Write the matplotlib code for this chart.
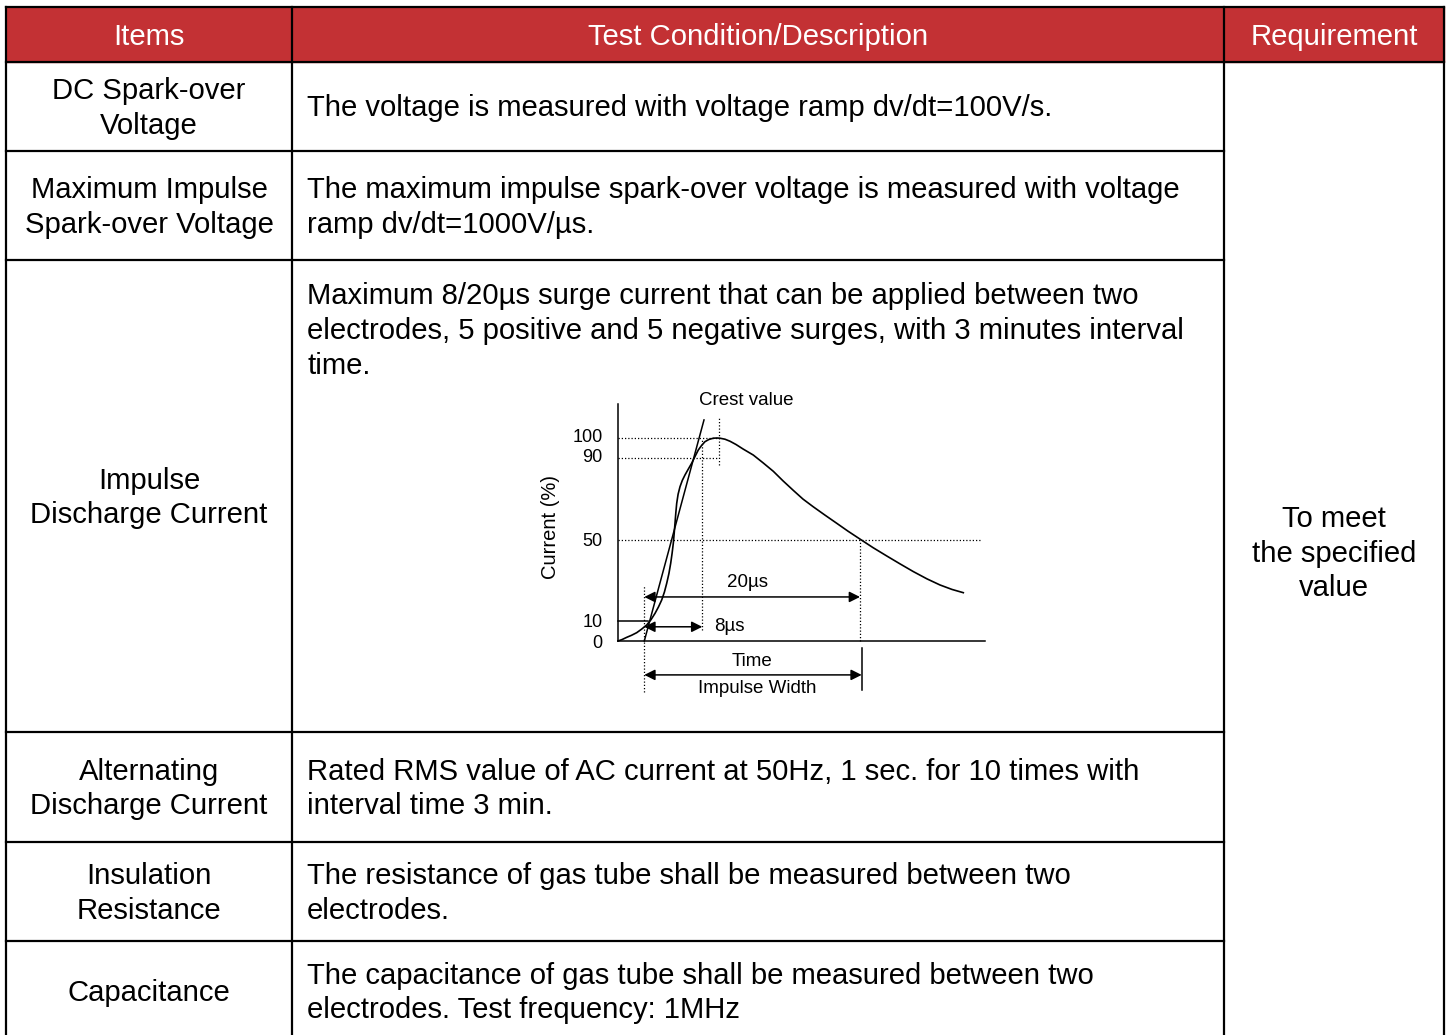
import matplotlib
matplotlib.use("Agg")
import matplotlib.pyplot as plt
import matplotlib.transforms as mtransforms

plt.rcParams['font.family'] = ['Liberation Sans', 'DejaVu Sans']

# ---------------- data ----------------
headers = ["Items", "Test Condition/Description", "Requirement"]
items = ["DC Spark-over\nVoltage",
         "Maximum Impulse\nSpark-over Voltage",
         "Impulse\nDischarge Current",
         "Alternating\nDischarge Current",
         "Insulation\nResistance",
         "Capacitance"]
descriptions = ["The voltage is measured with voltage ramp dv/dt=100V/s.",
                "The maximum impulse spark-over voltage is measured with voltage\nramp dv/dt=1000V/\u00b5s.",
                "Maximum 8/20\u00b5s surge current that can be applied between two\nelectrodes, 5 positive and 5 negative surges, with 3 minutes interval\ntime.",
                "Rated RMS value of AC current at 50Hz, 1 sec. for 10 times with\ninterval time 3 min.",
                "The resistance of gas tube shall be measured between two\nelectrodes.",
                "The capacitance of gas tube shall be measured between two\nelectrodes. Test frequency: 1MHz"]
requirement = "To meet\nthe specified\nvalue"

# waveform (time in arbitrary units, current in %)
wave_t = [0, 4, 8.7, 13.5, 18.7, 23.5, 28.7, 33, 37, 40.5, 43.7, 46.4, 48.7, 50.9,
          52.7, 54.1, 55.3, 56.2, 57, 57.8, 58.7, 60.1, 62, 64.3, 67, 70.2, 73.7,
          77, 80.3, 83.7, 87, 91, 95.3, 99, 102, 107, 112, 118, 125, 135.3, 145,
          155.3, 165, 175.3, 185, 195.3, 207, 218.7, 230, 242, 255, 268.7, 282,
          295.3, 309, 322, 334, 345.3]
wave_i = [0, 0.7, 1.8, 2.8, 4.1, 5.8, 7.9, 10.5, 13.6, 16.8, 20.2, 24.1, 28.4, 33.2,
          38.3, 43.2, 48.1, 53.1, 58, 63, 67.8, 72.3, 76, 79.1, 81.8, 84.6, 87.6,
          90.9, 94.1, 96.4, 98.2, 99.3, 99.9, 100, 99.9, 99.4, 98.4, 96.8, 94.6,
          91.6, 87.8, 83.6, 78.9, 74.2, 69.9, 66.1, 62, 58, 54.1, 50.2, 46, 41.9,
          38, 34.2, 30.6, 27.6, 25.4, 23.8]
front_t = [26.3, 86]
front_i = [0, 108.9]
y_ticks = [0, 10, 50, 90, 100]
t_start, t_90, t_crest, t_50 = 26.3, 84.3, 100.8, 242

# ---------------- layout ----------------
W, H = 1451, 1035
fig = plt.figure(figsize=(W / 100, H / 100), dpi=100)
ax = fig.add_axes([0, 0, 1, 1])
ax.set_xlim(0, W)
ax.set_ylim(H, 0)
ax.axis('off')

red = '#C33134'
x0, x1, x2, x3 = 6, 292, 1224, 1444
ytop, yhead = 7, 62
row_bounds = [62, 151, 260, 732, 842, 941, 1041]
fs = 21.1
lsp = 1.31
lw = 1.6

ax.fill_between([x0, x3], ytop, yhead, color=red, zorder=1)
for xc, txt in zip([(x0 + x1) / 2, (x1 + x2) / 2, (x2 + x3) / 2], headers):
    ax.text(xc, (ytop + yhead) / 2 + 2.5, txt, color='white', fontsize=fs,
            ha='center', va='center')

# horizontal lines
ax.plot([x0, x3], [ytop, ytop], color='black', lw=lw, zorder=3)
ax.plot([x0, x3], [yhead, yhead], color='black', lw=lw, zorder=3)
for yb in row_bounds[1:-1]:
    ax.plot([x0, x2], [yb, yb], color='black', lw=lw, zorder=3)
ax.plot([x0, x3], [row_bounds[-1], row_bounds[-1]], color='black', lw=lw, zorder=3)
# vertical lines
for xv in [x0, x1, x2, x3]:
    ax.plot([xv, xv], [ytop, row_bounds[-1]], color='black', lw=lw, zorder=3)

for i, (it, ds) in enumerate(zip(items, descriptions)):
    ya, yb = row_bounds[i], row_bounds[i + 1]
    yc = (ya + yb) / 2
    ax.text((x0 + x1) / 2, yc + 2, it, fontsize=fs, ha='center', va='center',
            multialignment='center', linespacing=lsp)
    if i == 2:
        ax.text(307, 331, ds, fontsize=fs, ha='left', va='center', linespacing=lsp)
    else:
        ax.text(307, yc + 2, ds, fontsize=fs, ha='left', va='center', linespacing=lsp)

ax.text((x2 + x3) / 2, (row_bounds[0] + row_bounds[-1]) / 2 + 2, requirement,
        fontsize=fs, ha='center', va='center', multialignment='center',
        linespacing=lsp)

# ---------------- diagram ----------------
px_per_pct = 2.03
dl, dr, db, dt = 618, 985, 641, 404
dax = fig.add_axes([dl / W, 1 - db / H, (dr - dl) / W, (db - dt) / H])
dax.set_xlim(0, dr - dl)
dax.set_ylim(0, (db - dt) / px_per_pct)
dax.patch.set_alpha(0)
for s in ['top', 'right']:
    dax.spines[s].set_visible(False)
for s in ['left', 'bottom']:
    dax.spines[s].set_linewidth(1.1)
dax.set_xticks([])
dax.set_yticks(y_ticks)
dax.set_yticklabels([str(v) for v in y_ticks], fontsize=13)
dax.tick_params(axis='y', length=0, pad=11)
for lab in dax.get_yticklabels():
    if lab.get_text() in ('90', '100'):
        lab.set_transform(lab.get_transform() +
                          mtransforms.ScaledTranslation(0, 3 / 100, fig.dpi_scale_trans))

dot = dict(color='black', lw=0.9, linestyle=(0, (1, 1.6)), clip_on=False)
dax.plot([0, 98.7], [100, 100], **dot)
dax.plot([0, 100], [90, 90], **dot)
dax.plot([0, 363.7], [50, 50], **dot)
dax.plot([t_crest, t_crest], [86.7, 110.3], **dot)
dax.plot([t_90, t_90], [5.4, 99], **dot)
dax.plot([t_start, t_start], [-25, 27.6], **dot)
dax.plot([t_50, t_50], [0, 50], **dot)

dax.plot([0, 30], [10, 10], color='black', lw=1.1, clip_on=False)
dax.plot(wave_t, wave_i, color='black', lw=1.2, clip_on=False,
         solid_joinstyle='round')
dax.plot(front_t, front_i, color='black', lw=1.1, clip_on=False)
dax.plot([243.7, 243.7], [-3.4, -24.1], color='black', lw=1.1, clip_on=False)

arr = dict(arrowstyle='<|-|>', color='black', lw=1.1, mutation_scale=16,
           shrinkA=0, shrinkB=0)
dax.annotate('', xy=(t_start, 21.7), xytext=(t_50, 21.7), arrowprops=arr,
             annotation_clip=False)
dax.annotate('', xy=(t_start, 7), xytext=(t_90, 7), arrowprops=arr,
             annotation_clip=False)
dax.annotate('', xy=(t_start, -16.7), xytext=(243.7, -16.7), arrowprops=arr,
             annotation_clip=False)

tfs = 13.5
dax.text(130, 28.6, '20\u00b5s', fontsize=tfs, ha='center', va='center')
dax.text(96, 7, '8\u00b5s', fontsize=tfs, ha='left', va='center')
dax.text(134, -9.9, 'Time', fontsize=tfs, ha='center', va='center')
dax.text(139, -23.6, 'Impulse Width', fontsize=tfs, ha='center', va='center')
dax.text(128, 118.7, 'Crest value', fontsize=tfs, ha='center', va='center')
dax.text(-68, 56, 'Current (%)', fontsize=14.5, ha='center', va='center',
         rotation=90)

fig.savefig('out.png', dpi=100)
